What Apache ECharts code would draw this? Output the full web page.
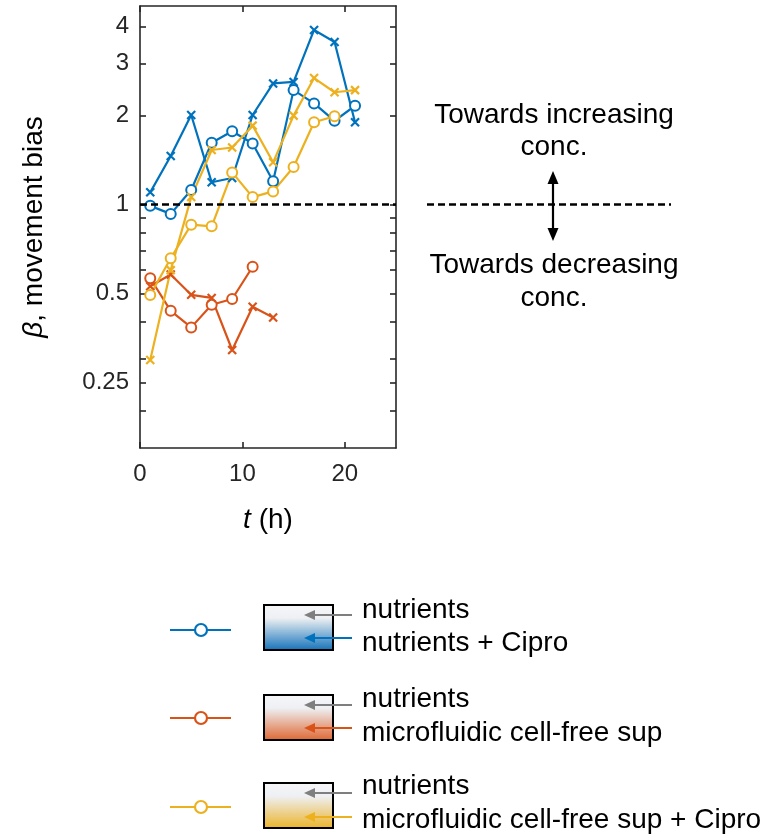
<!DOCTYPE html>
<html><head><meta charset="utf-8">
<script src="https://cdn.jsdelivr.net/npm/echarts@6/dist/echarts.min.js"></script>
<style>html,body{margin:0;padding:0;background:#fff}#c{width:776px;height:838px}</style>
</head><body><div id="c"></div>
<script>
// ---- data ----
const hours = [1, 3, 5, 7, 9, 11, 13, 15, 17, 19, 21];
const ciproCircle = [0.99, 0.93, 1.12, 1.62, 1.77, 1.61, 1.20, 2.44, 2.20, 1.92, 2.16];
const ciproCross = [1.10, 1.46, 2.01, 1.19, 1.23, 2.01, 2.57, 2.60, 3.90, 3.55, 1.90];
const supCircle = [0.563, 0.437, 0.384, 0.458, 0.479, 0.616];
const supCross = [0.529, 0.58, 0.495, 0.483, 0.322, 0.451, 0.415];
const supCiproCircle = [0.494, 0.658, 0.855, 0.844, 1.285, 1.06, 1.108, 1.34, 1.90, 1.99];
const supCiproCross = [0.298, 0.60, 1.06, 1.53, 1.56, 1.85, 1.39, 2.00, 2.68, 2.40, 2.44];
const yTickLabels = [0.25, 0.5, 1, 2, 3, 4];
const yTickMarks = [0.2, 0.25, 0.3, 0.4, 0.5, 0.6, 0.7, 0.8, 0.9, 1, 2, 3, 4];
const xTickLabels = [0, 10, 20];
const legendLines = [
  ['nutrients', 'nutrients + Cipro'],
  ['nutrients', 'microfluidic cell-free sup'],
  ['nutrients', 'microfluidic cell-free sup + Cipro']
];
const annotUp = ['Towards increasing', 'conc.'];
const annotDown = ['Towards decreasing', 'conc.'];

// ---- style ----
const FONT = "'Liberation Sans', Arial, Helvetica, sans-serif";
const AX = '#262626';
const BLUE = '#0072BD', RED = '#D95319', YEL = '#EDB120';
const CROSS = 'path://M0,0L10,10M10,0L0,10';

function pts(ys) { return ys.map((v, i) => [hours[i], v]); }
function mk(name, ys, color, cross) {
  return {
    type: 'line', name: name, data: pts(ys),
    symbol: cross ? CROSS : 'emptyCircle',
    symbolSize: cross ? 8 : 10,
    showAllSymbol: true,
    lineStyle: { color: color, width: 2.2 },
    itemStyle: cross ? { color: color, borderColor: color, borderWidth: 2.2 } : { color: color, borderWidth: 2.2 },
    emphasis: { disabled: true },
    animation: false
  };
}

const chart = echarts.init(document.getElementById('c'));
const axLine = { show: true, onZero: false, lineStyle: { color: AX, width: 1.6 } };
const tickStyle = { color: AX, width: 1.6 };

const series = [
  mk('nutrients + Cipro (o)', ciproCircle, BLUE, false),
  mk('nutrients + Cipro (x)', ciproCross, BLUE, true),
  mk('cell-free sup (o)', supCircle, RED, false),
  mk('cell-free sup (x)', supCross, RED, true),
  mk('cell-free sup + Cipro (o)', supCiproCircle, YEL, false),
  mk('cell-free sup + Cipro (x)', supCiproCross, YEL, true)
];
series[0].markLine = {
  silent: true, symbol: 'none', label: { show: false }, animation: false,
  lineStyle: { color: '#000', type: [7, 4], width: 2.5 },
  data: [{ yAxis: 1 }]
};

const option = {
  backgroundColor: '#fff',
  animation: false,
  grid: { left: 140, right: 380, top: 6, bottom: 390, containLabel: false },
  xAxis: [{
    type: 'value', min: 0, max: 25, position: 'bottom',
    axisLine: axLine,
    axisTick: { show: true, inside: true, length: 6, lineStyle: tickStyle, customValues: xTickLabels },
    axisLabel: { fontSize: 24, color: AX, fontFamily: FONT, margin: 14, customValues: xTickLabels },
    splitLine: { show: false },
    name: '{i|t} (h)', nameLocation: 'middle', nameGap: 58,
    nameTextStyle: { fontSize: 28, color: '#000', fontFamily: FONT,
      rich: { i: { fontSize: 28, fontStyle: 'italic', fontFamily: FONT, color: '#000' } } }
  }, {
    type: 'value', min: 0, max: 25, position: 'top',
    axisLine: axLine,
    axisTick: { show: true, inside: true, length: 6, lineStyle: tickStyle, customValues: xTickLabels },
    axisLabel: { show: false },
    splitLine: { show: false }
  }],
  yAxis: [{
    type: 'log', logBase: 10, min: 0.15, max: 4.7, position: 'left',
    axisLine: axLine,
    axisTick: { show: true, inside: true, length: 6, lineStyle: tickStyle, customValues: yTickMarks },
    axisLabel: { fontSize: 24, color: AX, fontFamily: FONT, margin: 11, customValues: yTickLabels,
      formatter: function (v) { return String(+v.toPrecision(6)); } },
    splitLine: { show: false },
    minorTick: { show: false },
    name: '{b|β}, movement bias', nameLocation: 'middle', nameGap: 92,
    nameTextStyle: { fontSize: 28, color: '#000', fontFamily: FONT,
      rich: { b: { fontSize: 28, fontStyle: 'italic', fontFamily: FONT, color: '#000' } } }
  }, {
    type: 'log', logBase: 10, min: 0.15, max: 4.7, position: 'right',
    axisLine: axLine,
    axisTick: { show: true, inside: true, length: 6, lineStyle: tickStyle, customValues: yTickMarks },
    axisLabel: { show: false },
    splitLine: { show: false },
    minorTick: { show: false }
  }],
  series: series
};
chart.setOption(option);

// ---- annotations and custom legend (graphic) ----
const y1 = chart.convertToPixel({ yAxisIndex: 0 }, 1);
const g = [];
function txt(x, y, s, size, align) {
  g.push({ type: 'text', x: x, y: y, silent: true,
    style: { text: s, fontSize: size, fontFamily: FONT, fill: '#000', align: align || 'center', verticalAlign: 'middle' } });
}
// right annotation
txt(554, 115, annotUp[0], 28); txt(554, 147, annotUp[1], 28);
txt(554, 265, annotDown[0], 28); txt(554, 298, annotDown[1], 28);
g.push({ type: 'line', silent: true, shape: { x1: 427, y1: y1, x2: 671, y2: y1 },
  style: { stroke: '#000', lineWidth: 2.5, lineDash: [7, 4] } });
g.push({ type: 'line', silent: true, shape: { x1: 553, y1: 180, x2: 553, y2: 232 },
  style: { stroke: '#000', lineWidth: 2.2 } });
g.push({ type: 'polygon', silent: true, shape: { points: [[553, 171], [547.5, 184], [558.5, 184]] }, style: { fill: '#000' } });
g.push({ type: 'polygon', silent: true, shape: { points: [[553, 241], [547.5, 228], [558.5, 228]] }, style: { fill: '#000' } });

// bottom legend
const legColors = [BLUE, RED, YEL];
const legBottom = ['#1170b8', '#df6530', '#ebb226'];
const rows = [
  { line: 630, top: 605, bot: 650, a1: 615, a2: 638, t1: 610, t2: 643 },
  { line: 718, top: 695, bot: 740, a1: 705, a2: 728, t1: 699.5, t2: 733 },
  { line: 807, top: 783, bot: 828, a1: 793, a2: 817, t1: 786.5, t2: 820 }
];
function arrow(y, color) {
  g.push({ type: 'line', silent: true, shape: { x1: 312, y1: y, x2: 352, y2: y }, style: { stroke: color, lineWidth: 2.2 } });
  g.push({ type: 'polygon', silent: true, shape: { points: [[304, y], [315, y - 5], [315, y + 5]] }, style: { fill: color } });
}
rows.forEach((r, i) => {
  const c = legColors[i];
  g.push({ type: 'line', silent: true, shape: { x1: 170, y1: r.line, x2: 231, y2: r.line }, style: { stroke: c, lineWidth: 2.2 } });
  g.push({ type: 'circle', silent: true, shape: { cx: 201, cy: r.line, r: 6 }, style: { fill: '#fff', stroke: c, lineWidth: 2.2 } });
  g.push({ type: 'rect', silent: true, shape: { x: 264, y: r.top, width: 69, height: r.bot - r.top },
    style: { fill: new echarts.graphic.LinearGradient(0, 0, 0, 1, [
      { offset: 0, color: '#f7f7f9' }, { offset: 0.3, color: '#eef0f3' }, { offset: 1, color: legBottom[i] }]),
      stroke: '#000', lineWidth: 2 } });
  arrow(r.a1, '#7f7f7f');
  arrow(r.a2, c);
  txt(362, r.t1, legendLines[i][0], 28, 'left');
  txt(362, r.t2, legendLines[i][1], 28, 'left');
});
chart.setOption({ graphic: g });
</script>
</body></html>
